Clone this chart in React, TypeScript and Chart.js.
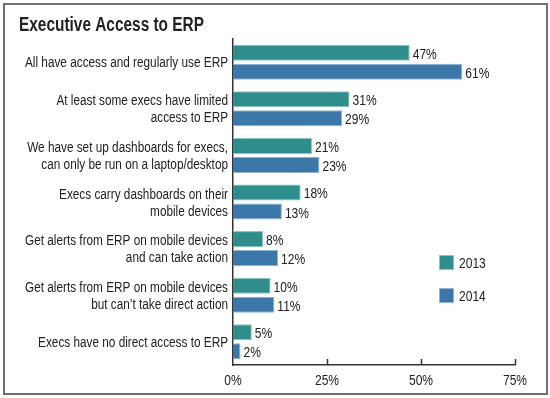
import React, { useEffect, useRef } from "react";
import { Chart, registerables } from "chart.js";

Chart.register(...registerables);

const categories: string[][] = [
  ["All have access and regularly use ERP"],
  ["At least some execs have limited", "access to ERP"],
  ["We have set up dashboards for execs,", "can only be run on a laptop/desktop"],
  ["Execs carry dashboards on their", "mobile devices"],
  ["Get alerts from ERP on mobile devices", "and can take action"],
  ["Get alerts from ERP on mobile devices", "but can\u2019t take direct action"],
  ["Execs have no direct access to ERP"],
];
const series2013 = [47, 31, 21, 18, 8, 10, 5];
const series2014 = [61, 29, 23, 13, 12, 11, 2];
const seriesNames = ["2013", "2014"];
const xTicks = [0, 25, 50, 75];
const titleText = "Executive Access to ERP";

const FONT = "'Liberation Sans', Arial, sans-serif";
const TEAL = "#2f8e8b";
const BLUE = "#3b78a9";
const TEAL_EDGE = "#8cc4c2";
const BLUE_EDGE = "#8db3d4";
const TEXT = "#222222";

function drawText(
  ctx: CanvasRenderingContext2D,
  text: string,
  x: number,
  y: number,
  align: "left" | "right" | "center",
  sx: number
) {
  const w = ctx.measureText(text).width * sx;
  let left = x;
  if (align === "right") left = x - w;
  else if (align === "center") left = x - w / 2;
  ctx.save();
  ctx.translate(left, y);
  ctx.scale(sx, 1);
  ctx.textAlign = "left";
  ctx.fillText(text, 0, 0);
  ctx.restore();
}

const decorPlugin = {
  id: "decor",
  afterDraw(chart: any) {
    const ctx: CanvasRenderingContext2D = chart.ctx;
    const area = chart.chartArea;
    const xs = chart.scales.x;
    const ys = chart.scales.y;
    ctx.save();
    ctx.fillStyle = TEXT;
    ctx.textBaseline = "alphabetic";

    // title
    ctx.font = `bold 20px ${FONT}`;
    const tsx = 185 / ctx.measureText(titleText).width;
    drawText(ctx, titleText, 19, 31, "left", tsx);

    // scale factor for body text
    ctx.font = `14px ${FONT}`;
    const lsx = 203 / ctx.measureText(categories[0][0]).width;
    const nsx = 0.86;

    // category labels
    categories.forEach((lines, i) => {
      const cy = ys.getPixelForValue(i);
      const lh = 17;
      const n = lines.length;
      lines.forEach((ln, j) => {
        const base = cy - ((n - 1) * lh) / 2 + j * lh + 5;
        drawText(ctx, ln, 228, base, "right", lsx);
      });
    });

    // x tick labels and upward tick marks
    xTicks.forEach((t) => {
      const px = xs.getPixelForValue(t);
      drawText(ctx, t + "%", px, 385, "center", nsx);
    });
    ctx.strokeStyle = "#333333";
    ctx.lineWidth = 1.5;
    xTicks.forEach((t) => {
      if (t === 0) return;
      const px = Math.round(xs.getPixelForValue(t)) + 0.5;
      ctx.beginPath();
      ctx.moveTo(px, area.bottom);
      ctx.lineTo(px, area.bottom - 6);
      ctx.stroke();
    });

    // value labels
    chart.data.datasets.forEach((ds: any, di: number) => {
      const meta = chart.getDatasetMeta(di);
      meta.data.forEach((bar: any, i: number) => {
        drawText(ctx, ds.data[i] + "%", bar.x + 3, bar.y + 6, "left", nsx);
      });
    });

    // legend
    const colors = [TEAL, BLUE];
    const edges = [TEAL_EDGE, BLUE_EDGE];
    const ly = [255, 288];
    seriesNames.forEach((name, i) => {
      ctx.fillStyle = colors[i];
      ctx.fillRect(439, ly[i], 15, 15);
      ctx.strokeStyle = edges[i];
      ctx.lineWidth = 1;
      ctx.strokeRect(439.5, ly[i] + 0.5, 14, 14);
      ctx.fillStyle = TEXT;
      drawText(ctx, name, 459, ly[i] + 12.5, "left", nsx);
    });
    ctx.restore();
  },
};

export default function App() {
  const ref = useRef<HTMLCanvasElement>(null);
  useEffect(() => {
    if (!ref.current) return;
    const chart = new Chart(ref.current, {
      type: "bar",
      data: {
        labels: categories,
        datasets: [
          {
            label: seriesNames[0],
            data: series2013,
            backgroundColor: TEAL,
            borderColor: TEAL_EDGE,
            borderWidth: 1,
            categoryPercentage: 0.816,
            barPercentage: 0.842,
          },
          {
            label: seriesNames[1],
            data: series2014,
            backgroundColor: BLUE,
            borderColor: BLUE_EDGE,
            borderWidth: 1,
            categoryPercentage: 0.816,
            barPercentage: 0.842,
          },
        ],
      },
      options: {
        indexAxis: "y",
        responsive: false,
        animation: false,
        layout: { padding: { top: 39, right: 35, left: 0, bottom: 0 } },
        plugins: {
          legend: { display: false },
          title: { display: false },
          tooltip: { enabled: false },
        },
        scales: {
          x: {
            min: 0,
            max: 75,
            afterBuildTicks: (s: any) => {
              s.ticks = xTicks.map((v) => ({ value: v }));
            },
            afterFit: (s: any) => {
              s.height = 33;
            },
            grid: { display: false, drawTicks: false },
            border: { display: true, color: "#333333", width: 1.5 },
            ticks: { display: false },
          },
          y: {
            afterFit: (s: any) => {
              s.width = 233;
            },
            grid: { display: false, drawTicks: false },
            border: { display: true, color: "#333333", width: 1.5 },
            ticks: { display: false },
          },
        },
      },
      plugins: [decorPlugin],
    });
    return () => chart.destroy();
  }, []);
  return (
    <div style={{ position: "absolute", left: 0, top: 0, width: 550, height: 398, background: "#fff" }}>
      <canvas ref={ref} width={550} height={398} style={{ position: "absolute", left: 0, top: 0 }} />
      <div
        style={{
          position: "absolute",
          left: 3,
          top: 3,
          width: 541,
          height: 388,
          border: "2px solid #707070",
          pointerEvents: "none",
        }}
      />
    </div>
  );
}
